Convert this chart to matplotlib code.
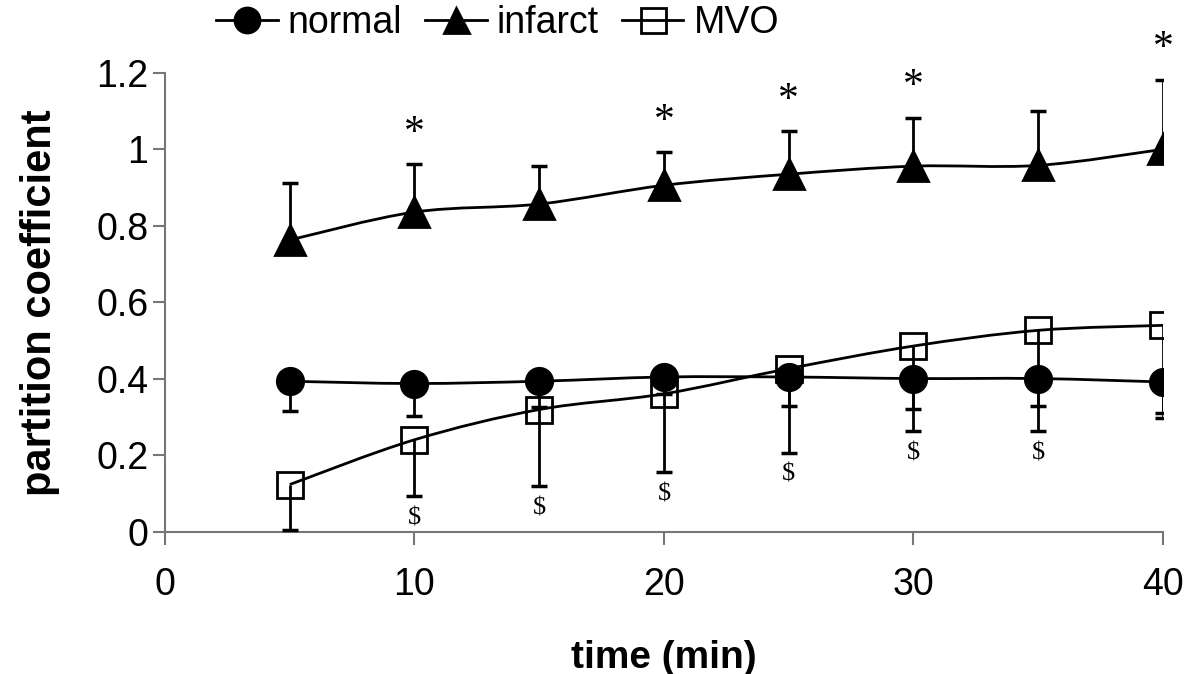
import numpy as np
import matplotlib
matplotlib.use("Agg")
import matplotlib.pyplot as plt
from matplotlib.path import Path
from matplotlib.patches import PathPatch

plt.rcParams['font.family'] = ['Liberation Sans', 'DejaVu Sans']

time = [5, 10, 15, 20, 25, 30, 35, 40]

normal = [0.394, 0.388, 0.394, 0.405, 0.405, 0.401, 0.401, 0.392]
normal_low = [0.315, 0.302, 0.327, 0.36, 0.33, 0.322, 0.33, 0.31]

infarct = [0.763, 0.836, 0.857, 0.906, 0.935, 0.956, 0.958, 1.0]
infarct_high = [0.911, 0.961, 0.956, 0.992, 1.047, 1.083, 1.099, 1.182]

mvo = [0.124, 0.241, 0.32, 0.361, 0.427, 0.486, 0.527, 0.54]
mvo_low = [0.006, 0.093, 0.12, 0.157, 0.207, 0.263, 0.263, 0.299]

star_times = [10, 20, 25, 30, 40]
dollar_times = [10, 15, 20, 25, 30, 35]


def smooth_path(x, y):
    # excel-like smoothed line: catmull-rom as cubic bezier
    x = np.asarray(x, float)
    y = np.asarray(y, float)
    n = len(x)
    verts = [(x[0], y[0])]
    codes = [Path.MOVETO]
    for i in range(n - 1):
        i0 = max(i - 1, 0)
        i3 = min(i + 2, n - 1)
        c1 = (x[i] + (x[i + 1] - x[i0]) / 6, y[i] + (y[i + 1] - y[i0]) / 6)
        c2 = (x[i + 1] - (x[i3] - x[i]) / 6, y[i + 1] - (y[i3] - y[i]) / 6)
        verts += [c1, c2, (x[i + 1], y[i + 1])]
        codes += [Path.CURVE4] * 3
    return Path(verts, codes)


fig = plt.figure(figsize=(11.91, 6.74), dpi=100)
ax = fig.add_axes([0.1385, 0.2107, 0.838, 0.6813])

lw = 2.0
ms = 19

series = [
    (infarct, infarct_high, '^', 'black', 'infarct', 2),
    (mvo, mvo_low, 's', 'none', 'MVO', 3),
    (normal, normal_low, 'o', 'black', 'normal', 4),
]
handles = {}
for vals, ends, mk, fc, lab, z in series:
    ax.vlines(time, vals, ends, color='black', lw=lw, zorder=z)
    ax.plot(time, ends, ls='none', marker='_', markersize=11, mew=2.5,
            color='black', zorder=z)
    ax.add_patch(PathPatch(smooth_path(time, vals), fill=False,
                           edgecolor='black', lw=lw, zorder=z))
    h, = ax.plot(time, vals, ls='none', marker=mk,
                 markersize=ms if mk != '^' else 21,
                 markerfacecolor=fc, markeredgecolor='black', mew=2,
                 zorder=z + 0.5)
    handles[lab] = ax.plot([], [], color='black', lw=lw, marker=mk,
                           markersize=18, markerfacecolor=fc,
                           markeredgecolor='black', mew=2)[0]

for t in star_times:
    i = time.index(t)
    ax.annotate('*', xy=(t, infarct_high[i]), xytext=(0, 22),
                textcoords='offset points', ha='center', va='center',
                fontsize=30, family='Liberation Serif', annotation_clip=False)

for t in dollar_times:
    i = time.index(t)
    ax.annotate('$', xy=(t, mvo_low[i]), xytext=(0, -16),
                textcoords='offset points', ha='center', va='center',
                fontsize=19, family='Liberation Serif')

ax.set_xlim(0, 40)
ax.set_ylim(0, 1.2)
ax.set_xticks([0, 10, 20, 30, 40])
ax.set_yticks([0, 0.2, 0.4, 0.6, 0.8, 1.0, 1.2])
ax.set_yticklabels(['0', '0.2', '0.4', '0.6', '0.8', '1', '1.2'])
for s in ['top', 'right']:
    ax.spines[s].set_visible(False)
for s in ['left', 'bottom']:
    ax.spines[s].set_color('#777777')
    ax.spines[s].set_linewidth(1.5)
ax.tick_params(direction='out', length=9, width=1.5, color='#777777',
               labelsize=27, pad=3)
ax.tick_params(axis='x', pad=16)

ax.set_xlabel('time (min)', fontsize=28, fontweight='bold', labelpad=27)
ax.set_ylabel('partition coefficient', fontsize=30, fontweight='bold',
              labelpad=26)

fig.legend([handles['normal'], handles['infarct'], handles['MVO']],
           ['normal', 'infarct', 'MVO'], loc='upper left',
           bbox_to_anchor=(0.153, 1.042), ncol=3, frameon=False, fontsize=27,
           handlelength=1.65, handletextpad=0.27, columnspacing=0.6)

fig.savefig('out.png', dpi=100)
